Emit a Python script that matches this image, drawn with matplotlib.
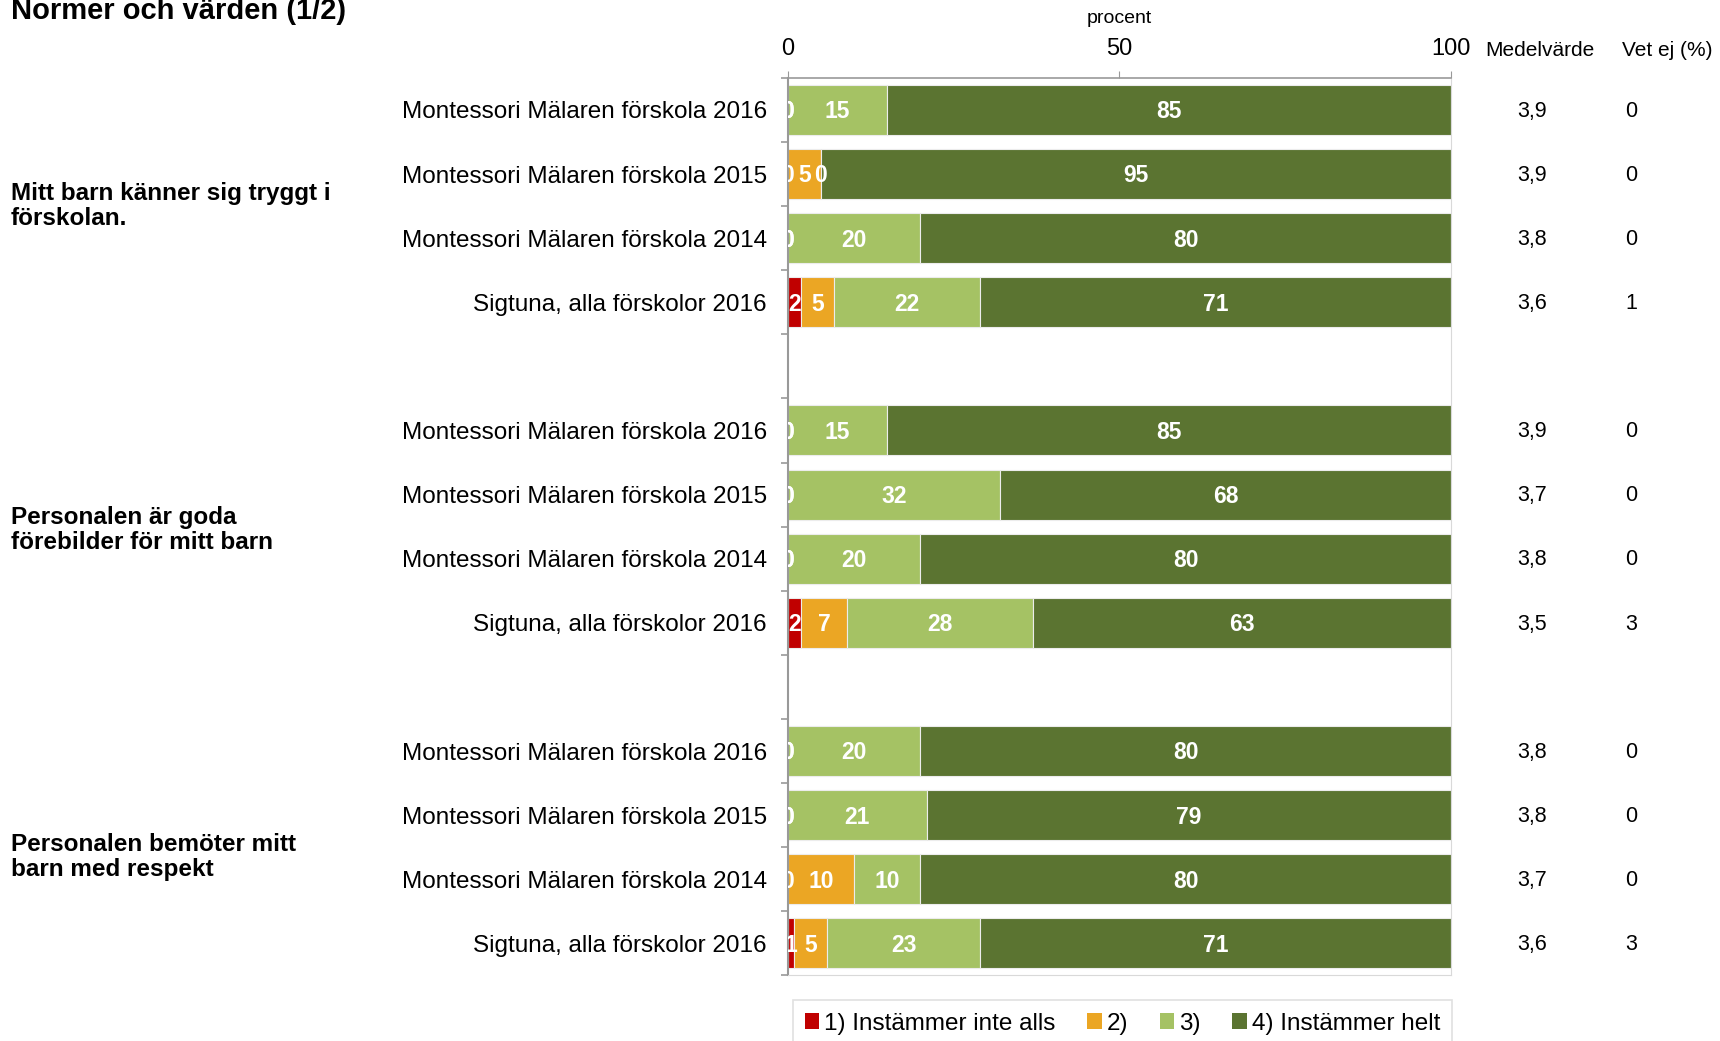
import numpy as np
import matplotlib
matplotlib.use("Agg")
import matplotlib.pyplot as plt
from matplotlib.patches import Patch
from matplotlib.transforms import blended_transform_factory

plt.rcParams['font.family'] = ['Liberation Sans', 'DejaVu Sans']

# data
groups = ["Mitt barn känner sig tryggt i\nförskolan.",
          "Personalen är goda\nförebilder för mitt barn",
          "Personalen bemöter mitt\nbarn med respekt"]
rows = ["Montessori Mälaren förskola 2016",
        "Montessori Mälaren förskola 2015",
        "Montessori Mälaren förskola 2014",
        "Sigtuna, alla förskolor 2016"]
cat_names = ["1) Instämmer inte alls", "2)", "3)", "4) Instämmer helt"]
colors = ["#C00000", "#EBA624", "#A5C264", "#5B7431"]

s1 = [0, 0, 0, 2, 0, 0, 0, 2, 0, 0, 0, 1]
s2 = [0, 5, 0, 5, 0, 0, 0, 7, 0, 0, 10, 5]
s3 = [15, 0, 20, 22, 15, 32, 20, 28, 20, 21, 10, 23]
s4 = [85, 95, 80, 71, 85, 68, 80, 63, 80, 79, 80, 71]
medel = ["3,9", "3,9", "3,8", "3,6", "3,9", "3,7", "3,8", "3,5",
         "3,8", "3,8", "3,7", "3,6"]
vet_ej = ["0", "0", "0", "1", "0", "0", "0", "3", "0", "0", "0", "3"]

series = [s1, s2, s3, s4]
pos = [g * 5 + i for g in range(len(groups)) for i in range(len(rows))]

fig = plt.figure(figsize=(17.2, 10.41), dpi=100)
ax = fig.add_axes([0.4579, 0.0630, 0.3858, 0.8622])

left = np.zeros(len(pos))
for vals, col in zip(series, colors):
    vals = np.array(vals)
    ax.barh(pos, vals, left=left, height=0.78, color=col,
            edgecolor="#ececec", linewidth=0.8)
    for y, l, v in zip(pos, left, vals):
        ax.text(l + v / 2, y + 0.03, str(v), ha="center", va="center",
                color="white", fontsize=16.5, fontweight="bold", clip_on=True)
    left += vals

ax.set_xlim(0, 100)
ax.set_ylim(13.5, -0.5)

ax.xaxis.tick_top()
ax.set_xticks([0, 50, 100])
ax.tick_params(axis="x", labelsize=17, length=5, pad=8, color="#999999")
ax.set_yticks(pos)
ax.set_yticklabels(rows * len(groups), fontsize=17.5)
ax.set_yticks(np.arange(-0.5, 14, 1), minor=True)
ax.tick_params(axis="y", which="major", length=0, pad=15)
ax.tick_params(axis="y", which="minor", length=5, color="#999999", width=1.2)

ax.spines["left"].set_color("#999999")
ax.spines["left"].set_linewidth(1.5)
ax.spines["top"].set_color("#999999")
ax.spines["top"].set_linewidth(1.2)
ax.spines["right"].set_color("#d9d9d9")
ax.spines["bottom"].set_color("#d9d9d9")

# procent label
ax.text(50, -1.42, "procent", ha="center", va="center", fontsize=14,
        clip_on=False)

# right columns
ax.text(113.3, -0.93, "Medelvärde", ha="center", va="center", fontsize=15,
        clip_on=False)
ax.text(132.5, -0.93, "Vet ej (%)", ha="center", va="center", fontsize=15,
        clip_on=False)
for y, m, v in zip(pos, medel, vet_ej):
    ax.text(112.2, y + 0.02, m, ha="center", va="center", fontsize=15.5,
            clip_on=False)
    ax.text(127.2, y + 0.02, v, ha="center", va="center", fontsize=15.5,
            clip_on=False)

# group labels
tr = blended_transform_factory(fig.transFigure, ax.transData)
offs = [1.5, 1.55, 1.65]
for g, name in enumerate(groups):
    ax.text(0.0064, g * 5 + offs[g], name, transform=tr, ha="left",
            va="center", fontsize=17.5, fontweight="bold", linespacing=1.1,
            clip_on=False)

fig.text(0.0064, 0.989, "Normer och värden (1/2)", ha="left", va="center",
         fontsize=21, fontweight="bold")

handles = [Patch(facecolor=c, edgecolor="none") for c in colors]
leg = fig.legend(handles, cat_names, ncol=4, loc="upper center",
                 bbox_to_anchor=(0.6526, 0.039), fontsize=17.5, frameon=True,
                 fancybox=False, edgecolor="#d9d9d9", handlelength=0.6,
                 handleheight=0.6, handletextpad=0.2, columnspacing=1.3,
                 borderpad=0.5, borderaxespad=0)
leg.get_frame().set_linewidth(1.2)

fig.savefig("out.png", dpi=100)
